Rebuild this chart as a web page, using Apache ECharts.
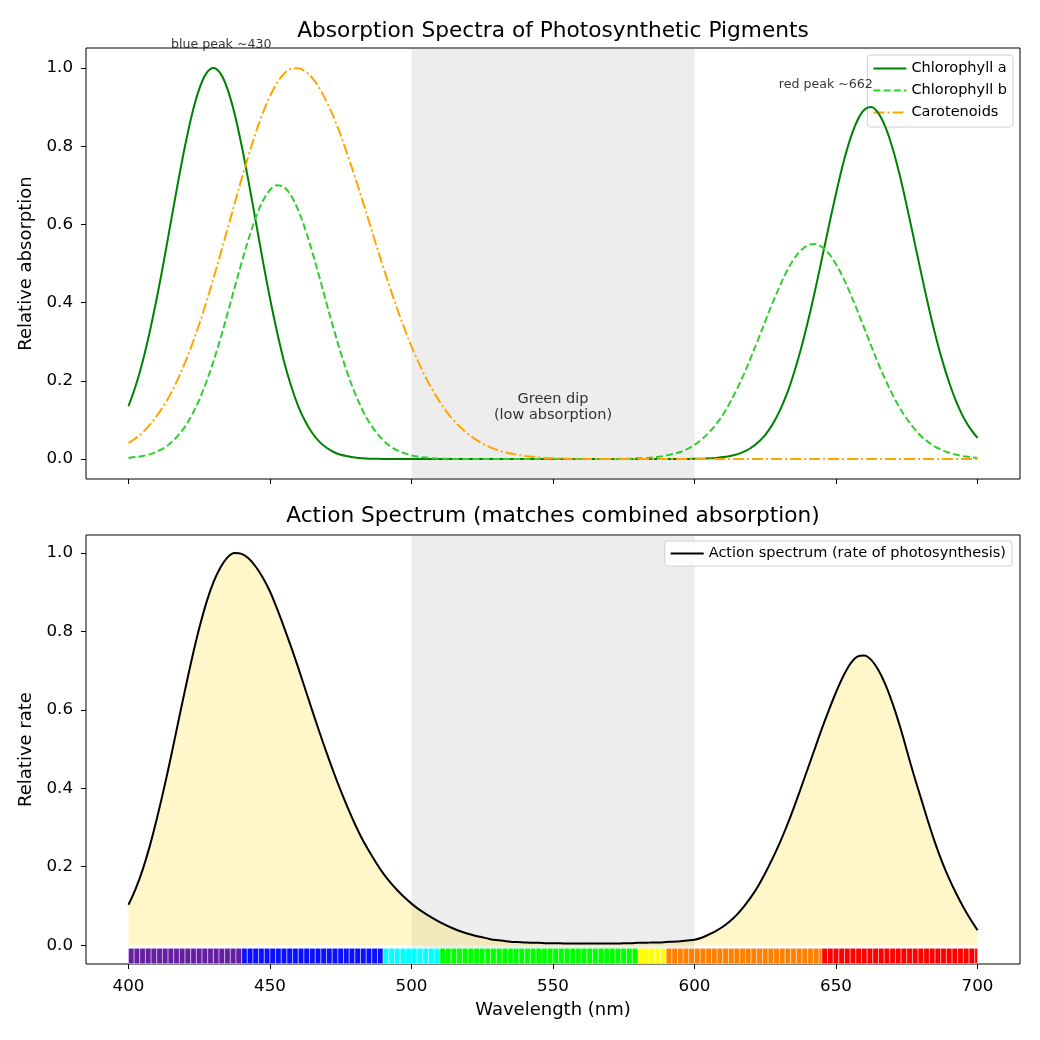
<!DOCTYPE html>
<html>
<head>
<meta charset="utf-8">
<script src="https://cdn.jsdelivr.net/npm/echarts@6/dist/echarts.min.js"></script>
<style>html,body{margin:0;padding:0;background:#fff}#c{width:1040px;height:1040px}</style>
</head>
<body>
<div id="c"></div>
<script>
var wavelengths = [
  400,402.5,405,407.5,410,412.5,415,417.5,420,422.5,
  425,427.5,430,432.5,435,437.5,440,442.5,445,447.5,
  450,452.5,455,457.5,460,462.5,465,467.5,470,472.5,
  475,477.5,480,482.5,485,487.5,490,492.5,495,497.5,
  500,502.5,505,507.5,510,512.5,515,517.5,520,522.5,
  525,527.5,530,532.5,535,537.5,540,542.5,545,547.5,
  550,552.5,555,557.5,560,562.5,565,567.5,570,572.5,
  575,577.5,580,582.5,585,587.5,590,592.5,595,597.5,
  600,602.5,605,607.5,610,612.5,615,617.5,620,622.5,
  625,627.5,630,632.5,635,637.5,640,642.5,645,647.5,
  650,652.5,655,657.5,660,662.5,665,667.5,670,672.5,
  675,677.5,680,682.5,685,687.5,690,692.5,695,697.5,
  700];
var chlA = [
  0.135,0.186,0.249,0.325,0.411,0.506,0.607,0.707,0.801,0.883,
  0.946,0.986,1.000,0.986,0.946,0.883,0.801,0.707,0.607,0.506,
  0.411,0.325,0.249,0.186,0.135,0.096,0.066,0.044,0.029,0.018,
  0.011,0.007,0.004,0.002,0.001,0.001,0,0,0,0,
  0,0,0,0,0,0,0,0,0,0,
  0,0,0,0,0,0,0,0,0,0,
  0,0,0,0,0,0,0,0,0,0,
  0,0,0,0,0,0,0,0,0,0,
  0.001,0.001,0.002,0.003,0.005,0.008,0.012,0.019,0.029,0.043,
  0.062,0.088,0.122,0.164,0.217,0.279,0.350,0.428,0.512,0.597,
  0.679,0.755,0.818,0.865,0.893,0.900,0.884,0.848,0.794,0.726,
  0.647,0.563,0.478,0.396,0.320,0.253,0.195,0.146,0.107,0.077,
  0.054];
var chlB = [
  0.003,0.005,0.008,0.012,0.019,0.028,0.042,0.060,0.083,0.114,
  0.151,0.197,0.249,0.308,0.372,0.438,0.503,0.564,0.618,0.660,
  0.688,0.700,0.695,0.673,0.636,0.587,0.528,0.464,0.398,0.333,
  0.272,0.217,0.169,0.128,0.095,0.069,0.048,0.033,0.022,0.015,
  0.009,0.006,0.004,0.002,0.001,0.001,0,0,0,0,
  0,0,0,0,0,0,0,0,0,0,
  0,0,0,0,0,0,0,0,0,0,
  0.001,0.001,0.002,0.002,0.004,0.006,0.009,0.013,0.018,0.026,
  0.036,0.050,0.067,0.088,0.113,0.144,0.179,0.218,0.261,0.306,
  0.352,0.398,0.440,0.479,0.510,0.533,0.547,0.550,0.542,0.525,
  0.498,0.464,0.424,0.380,0.334,0.288,0.243,0.202,0.164,0.131,
  0.103,0.079,0.059,0.044,0.032,0.023,0.016,0.011,0.007,0.005,
  0.003];
var carotenoids = [
  0.041,0.053,0.068,0.087,0.110,0.137,0.168,0.205,0.247,0.293,
  0.345,0.401,0.461,0.524,0.588,0.653,0.717,0.778,0.835,0.885,
  0.928,0.962,0.985,0.998,0.999,0.991,0.974,0.948,0.914,0.874,
  0.828,0.776,0.722,0.665,0.607,0.548,0.491,0.436,0.383,0.334,
  0.288,0.247,0.209,0.176,0.146,0.120,0.098,0.080,0.064,0.051,
  0.040,0.031,0.024,0.018,0.014,0.011,0.008,0.006,0.004,0.003,
  0.002,0.002,0.001,0.001,0.001,0,0,0,0,0,
  0,0,0,0,0,0,0,0,0,0,
  0,0,0,0,0,0,0,0,0,0,
  0,0,0,0,0,0,0,0,0,0,
  0,0,0,0,0,0,0,0,0,0,
  0,0,0,0,0,0,0,0,0,0,
  0];
var action = [
  0.103,0.143,0.192,0.252,0.322,0.398,0.480,0.566,0.651,0.733,
  0.808,0.873,0.925,0.963,0.989,1.000,0.998,0.986,0.965,0.937,
  0.902,0.858,0.810,0.760,0.707,0.652,0.597,0.543,0.491,0.441,
  0.394,0.350,0.309,0.272,0.240,0.210,0.183,0.160,0.140,0.122,
  0.106,0.092,0.080,0.069,0.059,0.050,0.042,0.035,0.029,0.024,
  0.020,0.016,0.013,0.011,0.009,0.008,0.007,0.006,0.006,0.005,
  0.005,0.005,0.004,0.004,0.004,0.004,0.004,0.004,0.004,0.004,
  0.005,0.005,0.006,0.006,0.007,0.007,0.008,0.009,0.010,0.012,
  0.014,0.019,0.027,0.036,0.047,0.061,0.078,0.099,0.123,0.151,
  0.184,0.220,0.259,0.302,0.349,0.399,0.450,0.501,0.552,0.600,
  0.645,0.685,0.717,0.736,0.739,0.727,0.701,0.664,0.616,0.560,
  0.497,0.434,0.375,0.316,0.261,0.212,0.169,0.131,0.097,0.066,
  0.038];
var xTicks = [400,450,500,550,600,650,700];
var yTicks = [0,0.2,0.4,0.6,0.8,1.0];
var bandStarts = [400,440,490,510,580,590,645];
var bandEnds   = [440,490,510,580,590,645,700];
var bandColors = ['#661ea0','#0a10ff','#00ffff','#00ff00','#ffff00','#ff8000','#ff0000'];
var dipRange = [500,600];
var annotations = [
  {x:415, y:1.06, text:'blue peak ~430', align:'left', size:12.6},
  {x:663, y:0.958, text:'red peak ~662', align:'right', size:12.6},
  {x:550, y:0.133, text:'Green dip\n(low absorption)', align:'center', size:14.5}
];

function pairs(ys){ return wavelengths.map(function(w,i){ return [w, ys[i]]; }); }

// spectrum strip: one rectangle per 2 nm, coloured by band
var strip = [];
for (var b = 0; b < bandStarts.length; b++) {
  for (var w = bandStarts[b]; w < bandEnds[b]; w += 2) strip.push([w, Math.min(w + 2, bandEnds[b]), b]);
}

var FONT = 'DejaVu Sans';
var chart = echarts.init(document.getElementById('c'), null, {renderer:'canvas'});

function xAxisCfg(idx, showLabels, name){
  return {
    type:'value', gridIndex:idx, min:385, max:715,
    axisLine:{show:false, onZero:false},
    splitLine:{show:false},
    axisTick:{show:true, length:5, lineStyle:{color:'#000', width:1}, customValues:xTicks},
    axisLabel:{show:showLabels, customValues:xTicks, color:'#000', fontFamily:FONT, fontSize:16.7, margin:14},
    name:name, nameLocation:'middle', nameGap:37,
    nameTextStyle:{color:'#000', fontFamily:FONT, fontSize:18}
  };
}
function yAxisCfg(idx, min, max, name){
  return {
    type:'value', gridIndex:idx, min:min, max:max,
    axisLine:{show:false, onZero:false},
    splitLine:{show:false},
    axisTick:{show:true, length:5, lineStyle:{color:'#000', width:1}, customValues:yTicks},
    axisLabel:{show:true, customValues:yTicks, color:'#000', fontFamily:FONT, fontSize:16.7, margin:13,
      formatter:function(v){ return (+v).toFixed(1); }},
    name:name, nameLocation:'middle', nameGap:46, nameRotate:90,
    nameTextStyle:{color:'#000', fontFamily:FONT, fontSize:18}
  };
}

var dipArea = {
  silent:true,
  itemStyle:{color:'rgba(128,128,128,0.14)'},
  data:[[{xAxis:dipRange[0]},{xAxis:dipRange[1]}]]
};

var legendBase = {
  orient:'vertical', backgroundColor:'rgba(255,255,255,0.85)', borderColor:'#d0d0d0', borderWidth:1, borderRadius:3,
  itemWidth:33, itemHeight:14, itemStyle:{opacity:0},
  textStyle:{fontFamily:FONT, fontSize:14.5, color:'#000'}
};

var SMOOTH = 0.35;
var option = {
  animation:false,
  backgroundColor:'#fff',
  title:[
    {text:'Absorption Spectra of Photosynthetic Pigments', left:553, top:20, textAlign:'center', padding:0,
      textStyle:{fontFamily:FONT, fontSize:21.7, fontWeight:'normal', color:'#000'}},
    {text:'Action Spectrum (matches combined absorption)', left:553, top:505, textAlign:'center', padding:0,
      textStyle:{fontFamily:FONT, fontSize:21.7, fontWeight:'normal', color:'#000'}}
  ],
  grid:[
    {left:86, right:20, top:48, height:431, show:true, borderColor:'#000', borderWidth:1, backgroundColor:'transparent'},
    {left:86, right:20, top:535, height:429, show:true, borderColor:'#000', borderWidth:1, backgroundColor:'transparent'}
  ],
  legend:[
    Object.assign({}, legendBase, {data:['Chlorophyll a','Chlorophyll b','Carotenoids'], right:27, top:55,
      padding:[6,6,7,5], itemGap:7}),
    Object.assign({}, legendBase, {data:['Action spectrum (rate of photosynthesis)'], right:28, top:541,
      padding:[5,6,5,5]})
  ],
  xAxis:[ xAxisCfg(0, false, ''), xAxisCfg(1, true, 'Wavelength (nm)') ],
  yAxis:[ yAxisCfg(0, -0.051, 1.051, 'Relative absorption'), yAxisCfg(1, -0.048, 1.046, 'Relative rate') ],
  series:[
    {name:'dip-top', type:'line', xAxisIndex:0, yAxisIndex:0, data:[], markArea:dipArea, silent:true},
    {name:'Chlorophyll a', type:'line', xAxisIndex:0, yAxisIndex:0, data:pairs(chlA), smooth:SMOOTH, symbol:'none',
      color:'#008000', lineStyle:{color:'#008000', width:2}, z:5},
    {name:'Chlorophyll b', type:'line', xAxisIndex:0, yAxisIndex:0, data:pairs(chlB), smooth:SMOOTH, symbol:'none',
      color:'#32cd32', lineStyle:{color:'#32cd32', width:2, type:[7,3.2]}, z:5},
    {name:'Carotenoids', type:'line', xAxisIndex:0, yAxisIndex:0, data:pairs(carotenoids), smooth:SMOOTH, symbol:'none',
      color:'#ffa500', lineStyle:{color:'#ffa500', width:2, type:[11,3,2,3]}, z:5},
    {name:'annotations', type:'scatter', xAxisIndex:0, yAxisIndex:0, symbolSize:0, clip:false, silent:true, z:6,
      color:'#000',
      data:annotations.map(function(a){
        return {value:[a.x, a.y], label:{show:true, position:'inside', formatter:a.text, align:a.align,
          verticalAlign:'middle', color:'#000', textBorderWidth:0, textBorderColor:'transparent',
          fontFamily:FONT, fontSize:a.size, lineHeight:16}};
      })},
    {name:'dip-bottom', type:'line', xAxisIndex:1, yAxisIndex:1, data:[], markArea:dipArea, silent:true},
    {name:'Action spectrum (rate of photosynthesis)', type:'line', xAxisIndex:1, yAxisIndex:1, data:pairs(action),
      smooth:SMOOTH, symbol:'none', color:'#000', lineStyle:{color:'#000', width:2},
      areaStyle:{color:'rgba(255,215,0,0.3)', origin:'auto'}, z:5},
    {name:'strip', type:'custom', xAxisIndex:1, yAxisIndex:1, data:strip, silent:true, z:4,
      renderItem:function(params, api){
        var p0 = api.coord([api.value(0), -0.008]);
        var p1 = api.coord([api.value(1), -0.047]);
        return {type:'rect', shape:{x:p0[0], y:p0[1], width:p1[0]-p0[0], height:p1[1]-p0[1]},
          style:{fill:bandColors[api.value(2)], stroke:'rgba(255,255,255,0.75)', lineWidth:0.6}};
      }}
  ]
};
chart.setOption(option);
</script>
</body>
</html>
